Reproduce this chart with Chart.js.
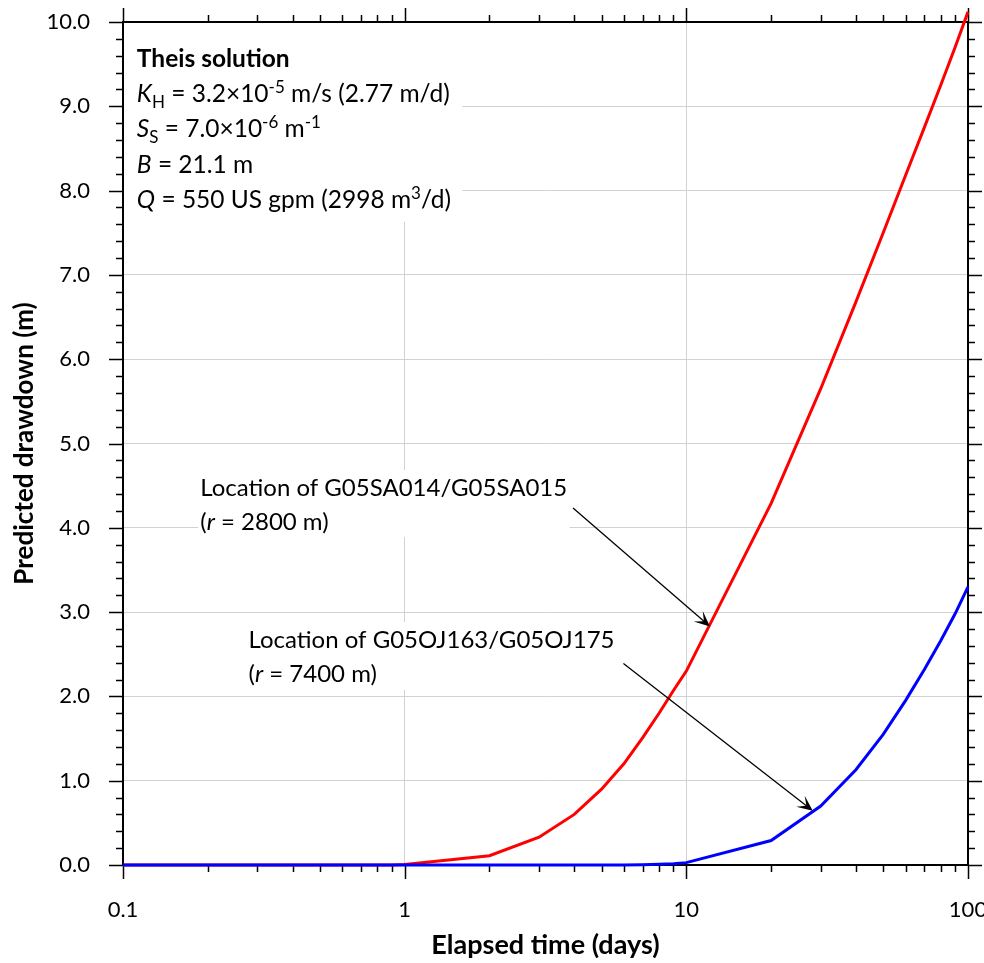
<!DOCTYPE html>
<html>
<head>
<meta charset="utf-8">
<script src="https://cdn.jsdelivr.net/npm/chart.js@4.4.0/dist/chart.umd.min.js"></script>
<style>
  html, body { margin: 0; padding: 0; background: #fff; }
  canvas { display: block; }
</style>
</head>
<body>
<canvas id="chart" width="984" height="963"></canvas>
<script>
// Elapsed time (days)
const times = [0.1, 0.2, 0.3, 0.4, 0.5, 0.6, 0.7, 0.8, 0.9,
  1, 2, 3, 4, 5, 6, 7, 8, 9, 10, 20, 30, 40, 50, 60, 70, 80, 90, 100];

// Predicted drawdown (m), r = 2800 m (G05SA014/G05SA015)
const drawdownR2800 = [0, 0, 0, 0, 0, 0, 0, 0, 0,
  0.005, 0.11, 0.33, 0.60, 0.90, 1.20, 1.51, 1.80, 2.07, 2.30,
  4.29, 5.65, 6.68, 7.50, 8.18, 8.75, 9.25, 9.70, 10.12];

// Predicted drawdown (m), r = 7400 m (G05OJ163/G05OJ175)
const drawdownR7400 = [0, 0, 0, 0, 0, 0, 0, 0, 0,
  0, 0, 0, 0, 0, 0.001, 0.003, 0.008, 0.015, 0.028,
  0.29, 0.70, 1.13, 1.55, 1.95, 2.32, 2.66, 2.98, 3.30];

// Axis ticks
const xMajorTicks = [0.1, 1, 10, 100];
const xTickLabels = ['0.1', '1', '10', '100'];
const yMajorTicks = [0, 1, 2, 3, 4, 5, 6, 7, 8, 9, 10];
const yTickLabels = ['0.0', '1.0', '2.0', '3.0', '4.0', '5.0', '6.0', '7.0', '8.0', '9.0', '10.0'];

const FONT = 'Lato, "Open Sans", sans-serif';
const GRID = '#d2d2d2';

// minor ticks: 2..9 in each decade, every 0.2 on y
const xAllTicks = [];
xMajorTicks.forEach((d, i) => {
  xAllTicks.push(d);
  if (i < xMajorTicks.length - 1) for (let k = 2; k <= 9; k++) xAllTicks.push(+(d * k).toPrecision(3));
});
const yAllTicks = [];
for (let i = 0; i <= 50; i++) yAllTicks.push(+(i * 0.2).toFixed(1));

const isMajor = (list, v) => list.some(m => Math.abs(m - v) < 1e-9);

// rich text pieces: [text, style] style: '', 'b', 'i', 'sub', 'sup'
function drawRich(ctx, x, y, parts, size) {
  let cx = x;
  parts.forEach(([text, style]) => {
    const small = style === 'sub' || style === 'sup';
    const fs = small ? Math.round(size * 0.68) : size;
    const weight = style === 'b' ? 'bold ' : '';
    const slant = style === 'i' ? 'italic ' : '';
    ctx.font = slant + weight + fs + 'px ' + FONT;
    let dy = 0;
    if (style === 'sub') dy = size * 0.25;
    if (style === 'sup') dy = -size * 0.38;
    ctx.fillText(text, cx, y + dy);
    cx += ctx.measureText(text).width;
  });
}

// Text annotations (anchor in data coords)
const infoLines = [
  [['Theis solution', 'b']],
  [['K', 'i'], ['H', 'sub'], [' = 3.2×10', ''], ['-5', 'sup'], [' m/s (2.77 m/d)', '']],
  [['S', 'i'], ['S', 'sub'], [' = 7.0×10', ''], ['-6', 'sup'], [' m', ''], ['-1', 'sup']],
  [['B', 'i'], [' = 21.1 m', '']],
  [['Q', 'i'], [' = 550 US gpm (2998 m', ''], ['3', 'sup'], ['/d)', '']]
];
const labelNear = [
  [['Location of G05SA014/G05SA015', '']],
  [['(', ''], ['r', 'i'], [' = 2800 m)', '']]
];
const labelFar = [
  [['Location of G05OJ163/G05OJ175', '']],
  [['(', ''], ['r', 'i'], [' = 7400 m)', '']]
];

const notes = [
  { lines: infoLines, x: 0.112, y: 9.47, size: 24.5, step: 35.3, box: [0.1, 1.6, 10, 7.63] },
  { lines: labelNear, x: 0.188, y: 4.377, size: 24, step: 34, box: [0.185, 3.85, 4.686, 3.891] },
  { lines: labelFar, x: 0.279, y: 2.571, size: 24, step: 34, box: [0.27, 5.9, 2.883, 2.076] }
];
const arrows = [
  { from: [3.96, 4.235], to: [12.13, 2.83] },
  { from: [5.98, 2.39], to: [28.1, 0.644] }
];

const decorations = {
  id: 'decorations',
  beforeDatasetsDraw(chart) {
    const { ctx, chartArea: a, scales: { x, y } } = chart;
    ctx.save();
    // white boxes behind text (hide grid)
    ctx.fillStyle = '#fff';
    notes.forEach(n => {
      const [x0, x1, y0, y1] = n.box;
      const px0 = x.getPixelForValue(x0), px1 = x.getPixelForValue(x1);
      const py0 = y.getPixelForValue(y0), py1 = y.getPixelForValue(y1);
      ctx.fillRect(px0, py0, px1 - px0, py1 - py0);
    });
    // text
    ctx.fillStyle = '#000';
    ctx.textBaseline = 'alphabetic';
    ctx.textAlign = 'left';
    notes.forEach(n => {
      const px = x.getPixelForValue(n.x);
      const py = y.getPixelForValue(n.y);
      n.lines.forEach((ln, i) => drawRich(ctx, px, py + i * n.step, ln, n.size));
    });
    // frame
    ctx.strokeStyle = '#000';
    ctx.lineWidth = 2;
    ctx.strokeRect(a.left, a.top, a.right - a.left, a.bottom - a.top);
    // tick marks, all four sides, outward
    ctx.lineWidth = 1.5;
    ctx.beginPath();
    xAllTicks.forEach(v => {
      const px = Math.round(x.getPixelForValue(v)) + 0.5;
      const len = isMajor(xMajorTicks, v) ? 14 : 7;
      ctx.moveTo(px, a.bottom); ctx.lineTo(px, a.bottom + len);
      ctx.moveTo(px, a.top); ctx.lineTo(px, a.top - len);
    });
    yAllTicks.forEach(v => {
      const py = Math.round(y.getPixelForValue(v)) + 0.5;
      const len = isMajor(yMajorTicks, v) ? 14 : 7;
      ctx.moveTo(a.left, py); ctx.lineTo(a.left - len, py);
      ctx.moveTo(a.right, py); ctx.lineTo(a.right + len, py);
    });
    ctx.stroke();
    ctx.restore();
  },
  afterDatasetsDraw(chart) {
    const { ctx, scales: { x, y } } = chart;
    ctx.save();
    ctx.strokeStyle = '#000';
    ctx.fillStyle = '#000';
    ctx.lineWidth = 1.3;
    arrows.forEach(ar => {
      const x0 = x.getPixelForValue(ar.from[0]), y0 = y.getPixelForValue(ar.from[1]);
      const x1 = x.getPixelForValue(ar.to[0]), y1 = y.getPixelForValue(ar.to[1]);
      const ang = Math.atan2(y1 - y0, x1 - x0);
      ctx.beginPath();
      ctx.moveTo(x0, y0);
      ctx.lineTo(x1 - 6 * Math.cos(ang), y1 - 6 * Math.sin(ang));
      ctx.stroke();
      // stealth arrow head
      const L = 17, W = 0.42;
      ctx.beginPath();
      ctx.moveTo(x1, y1);
      ctx.lineTo(x1 - L * Math.cos(ang - W), y1 - L * Math.sin(ang - W));
      ctx.lineTo(x1 - 8 * Math.cos(ang), y1 - 8 * Math.sin(ang));
      ctx.lineTo(x1 - L * Math.cos(ang + W), y1 - L * Math.sin(ang + W));
      ctx.closePath();
      ctx.fill();
    });
    ctx.restore();
  }
};

new Chart(document.getElementById('chart'), {
  type: 'line',
  data: {
    datasets: [
      {
        label: 'r = 2800 m',
        data: times.map((t, i) => ({ x: t, y: drawdownR2800[i] })),
        borderColor: '#ff0000',
        borderWidth: 3,
        pointRadius: 0,
        tension: 0,
        clip: false,
        order: 2
      },
      {
        label: 'r = 7400 m',
        data: times.map((t, i) => ({ x: t, y: drawdownR7400[i] })),
        borderColor: '#0000ff',
        borderWidth: 3,
        pointRadius: 0,
        tension: 0,
        clip: false,
        order: 1
      }
    ]
  },
  options: {
    responsive: false,
    animation: false,
    layout: { padding: { top: 22, right: 16, left: 0, bottom: 0 } },
    plugins: {
      legend: { display: false },
      tooltip: { enabled: false }
    },
    scales: {
      x: {
        type: 'logarithmic',
        min: 0.1,
        max: 100,
        afterBuildTicks: s => { s.ticks = xAllTicks.map(v => ({ value: v })); },
        afterFit: s => { s.height = 98; s.paddingLeft = 0; s.paddingRight = 0; },
        grid: {
          color: c => isMajor(xMajorTicks, c.tick.value) ? GRID : 'rgba(0,0,0,0)',
          lineWidth: 1,
          drawTicks: false
        },
        border: { display: false },
        ticks: {
          autoSkip: false,
          maxRotation: 0,
          padding: 32,
          color: '#000',
          font: { family: FONT, size: 22 },
          callback: v => {
            const i = xMajorTicks.findIndex(m => Math.abs(m - v) < 1e-9);
            return i >= 0 ? xTickLabels[i] : '';
          }
        },
        title: {
          display: true,
          text: 'Elapsed time (days)',
          color: '#000',
          font: { family: FONT, size: 27, weight: 'bold' },
          padding: { top: 0, bottom: 2 }
        }
      },
      y: {
        type: 'linear',
        min: 0,
        max: 10,
        afterBuildTicks: s => { s.ticks = yAllTicks.map(v => ({ value: v })); },
        afterFit: s => { s.width = 123; s.paddingTop = 0; s.paddingBottom = 0; },
        grid: {
          color: c => isMajor(yMajorTicks, c.tick.value) ? GRID : 'rgba(0,0,0,0)',
          lineWidth: 1,
          drawTicks: false
        },
        border: { display: false },
        ticks: {
          autoSkip: false,
          padding: 33,
          color: '#000',
          font: { family: FONT, size: 22 },
          callback: v => {
            const i = yMajorTicks.findIndex(m => Math.abs(m - v) < 1e-9);
            return i >= 0 ? yTickLabels[i] : '';
          }
        },
        title: {
          display: true,
          text: 'Predicted drawdown (m)',
          color: '#000',
          font: { family: FONT, size: 26, weight: 'bold' },
          padding: { top: 9, bottom: 0 }
        }
      }
    }
  },
  plugins: [decorations]
});
</script>
</body>
</html>
